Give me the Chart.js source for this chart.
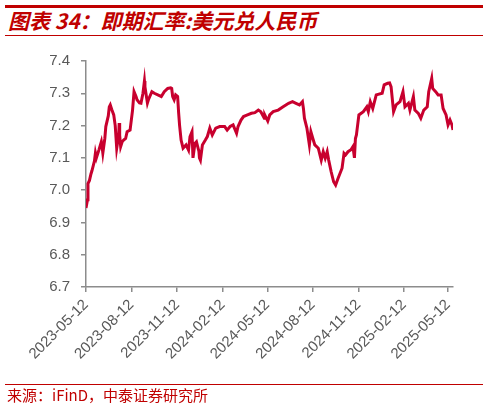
<!DOCTYPE html>
<html>
<head>
<meta charset="utf-8">
<title>即期汇率:美元兑人民币</title>
<script src="https://cdn.jsdelivr.net/npm/chart.js"></script>
<style>
  body { margin: 0; background: white; width: 488px; height: 408px; position: relative; overflow: hidden; }
  .rule { position: absolute; left: 5px; width: 478px; background: #c00000; }
  #title { position: absolute; left: 8px; top: 8px; font: italic bold 21px "Noto Sans CJK SC", "Liberation Sans", sans-serif; color: #c00000; line-height: 25px; white-space: nowrap; }
  #source { position: absolute; left: 7px; top: 386px; font: 15px "Noto Sans CJK SC", "Liberation Sans", sans-serif; color: #c00000; line-height: 18px; white-space: nowrap; }
  #wrap { position: absolute; left: 0; top: 40px; width: 488px; height: 345px; }
</style>
</head>
<body>
<div class="rule" style="top:5px;height:3px"></div>
<div id="title">图表 34：即期汇率:美元兑人民币</div>
<div class="rule" style="top:35px;height:1px"></div>
<div id="wrap"><canvas id="fx" width="488" height="345"></canvas></div>
<div class="rule" style="top:384px;height:1px"></div>
<div id="source">来源：iFinD，中泰证券研究所</div>
<script>
// USD/CNY spot
const dates = [
  '2023-05-12','2023-05-15','2023-05-16','2023-05-19','2023-05-22','2023-05-24','2023-05-29','2023-05-31',
  '2023-06-02','2023-06-07','2023-06-12','2023-06-13','2023-06-15','2023-06-19','2023-06-21','2023-06-26',
  '2023-06-28','2023-06-30','2023-07-03','2023-07-07','2023-07-10','2023-07-13','2023-07-17','2023-07-18',
  '2023-07-19','2023-07-21','2023-07-24','2023-07-27','2023-07-31','2023-08-03','2023-08-09','2023-08-14',
  '2023-08-17','2023-08-21','2023-08-23','2023-08-28','2023-08-31','2023-09-04','2023-09-07','2023-09-08',
  '2023-09-11','2023-09-13','2023-09-15','2023-09-22','2023-09-27','2023-10-04','2023-10-11','2023-10-17',
  '2023-10-24','2023-10-30','2023-11-01','2023-11-03','2023-11-06','2023-11-09','2023-11-13','2023-11-15',
  '2023-11-17','2023-11-20','2023-11-24','2023-11-30','2023-12-05','2023-12-08','2023-12-12','2023-12-14',
  '2023-12-18','2023-12-21','2023-12-26','2023-12-27','2023-12-29','2024-01-02','2024-01-08','2024-01-12',
  '2024-01-17','2024-01-22','2024-01-29','2024-02-06','2024-02-16','2024-02-21','2024-02-27','2024-03-04',
  '2024-03-11','2024-03-14','2024-03-20','2024-03-25','2024-04-02','2024-04-10','2024-04-17','2024-04-24',
  '2024-04-29','2024-05-06','2024-05-07','2024-05-13','2024-05-17','2024-05-24','2024-06-03','2024-06-13',
  '2024-06-24','2024-07-02','2024-07-09','2024-07-16','2024-07-22','2024-07-24','2024-07-26','2024-07-31',
  '2024-08-05','2024-08-08','2024-08-12','2024-08-16','2024-08-23','2024-08-29','2024-09-02','2024-09-06',
  '2024-09-10','2024-09-13','2024-09-18','2024-09-23','2024-09-27','2024-10-02','2024-10-10','2024-10-14',
  '2024-10-17','2024-10-22','2024-10-28','2024-11-01','2024-11-04','2024-11-06','2024-11-08','2024-11-13',
  '2024-11-22','2024-11-29','2024-12-02','2024-12-06','2024-12-11','2024-12-18','2024-12-30','2025-01-03',
  '2025-01-10','2025-01-14','2025-01-17','2025-01-22','2025-01-27','2025-02-04','2025-02-10','2025-02-14',
  '2025-02-21','2025-02-24','2025-03-03','2025-03-06','2025-03-13','2025-03-18','2025-03-24','2025-03-31',
  '2025-04-03','2025-04-09','2025-04-11','2025-04-17','2025-04-22','2025-04-28','2025-05-02','2025-05-08',
  '2025-05-12','2025-05-16','2025-05-20','2025-05-22'
];
const rates = [
  6.945, 6.97, 7.02, 7.03, 7.05, 7.06, 7.09, 7.115,
  7.10, 7.124, 7.15, 7.14, 7.115, 7.16, 7.197, 7.23,
  7.258, 7.264, 7.25, 7.233, 7.20, 7.13, 7.17, 7.208,
  7.17, 7.135, 7.15, 7.155, 7.16, 7.181, 7.186, 7.248,
  7.305, 7.29, 7.28, 7.27, 7.269, 7.30, 7.338, 7.32,
  7.29, 7.27, 7.28, 7.305, 7.30, 7.295, 7.29, 7.305,
  7.315, 7.317, 7.315, 7.29, 7.28, 7.295, 7.29, 7.24,
  7.20, 7.155, 7.13, 7.14, 7.124, 7.166, 7.181, 7.10,
  7.145, 7.15, 7.12, 7.10, 7.093, 7.14, 7.155, 7.166,
  7.192, 7.171, 7.192, 7.197, 7.197, 7.186, 7.197, 7.202,
  7.176, 7.197, 7.217, 7.228, 7.233, 7.238, 7.24, 7.248,
  7.243, 7.223, 7.233, 7.214, 7.233, 7.243, 7.248, 7.258,
  7.269, 7.274, 7.269, 7.264, 7.274, 7.253, 7.223, 7.192,
  7.14, 7.181, 7.16, 7.14, 7.13, 7.093, 7.119, 7.099,
  7.119, 7.093, 7.057, 7.026, 7.016, 7.037, 7.068, 7.114,
  7.109, 7.119, 7.125, 7.135, 7.10, 7.16, 7.171, 7.233,
  7.243, 7.258, 7.243, 7.274, 7.253, 7.295, 7.30, 7.326,
  7.331, 7.332, 7.32, 7.243, 7.264, 7.274, 7.305, 7.258,
  7.269, 7.248, 7.29, 7.248, 7.238, 7.223, 7.248, 7.258,
  7.305, 7.346, 7.315, 7.305, 7.295, 7.295, 7.253, 7.233,
  7.202, 7.217, 7.202, 7.186
];
const tickDates = ['2023-05-12','2023-08-12','2023-11-12','2024-02-12','2024-05-12',
                   '2024-08-12','2024-11-12','2025-02-12','2025-05-12'];
const yTicks = [6.7, 6.8, 6.9, 7.0, 7.1, 7.2, 7.3, 7.4];

const t0 = Date.parse(dates[0]);
const dayOf = d => Math.round((Date.parse(d) - t0) / 864e5);
const points = dates.map((d, i) => ({ x: dayOf(d), y: rates[i] }));

const axisGrey = '#8c8c8c';
const textGrey = '#595959';
const font = { family: '"Liberation Sans", Arial, sans-serif', size: 15 };

new Chart(document.getElementById('fx'), {
  type: 'line',
  data: {
    datasets: [{
      data: points,
      borderColor: '#c8002e',
      borderWidth: 3,
      pointRadius: 0,
      tension: 0
    }]
  },
  options: {
    responsive: false,
    animation: false,
    devicePixelRatio: 1,
    layout: { padding: { top: 21, right: 35, left: 0, bottom: 0 } },
    plugins: { legend: { display: false }, tooltip: { enabled: false } },
    scales: {
      x: {
        type: 'linear',
        min: 0,
        max: dayOf(dates[dates.length - 1]),
        afterBuildTicks: s => { s.ticks = tickDates.map(d => ({ value: dayOf(d) })); },
        afterFit: s => { s.height = 98; },
        border: { color: axisGrey, width: 1.5 },
        grid: { drawOnChartArea: false, color: axisGrey, tickLength: 5, lineWidth: 1.5 },
        ticks: {
          autoSkip: false, minRotation: 45, maxRotation: 45, padding: 4,
          color: textGrey, font: font,
          callback: (v, i) => tickDates[i]
        }
      },
      y: {
        min: 6.7,
        max: 7.4,
        afterBuildTicks: s => { s.ticks = yTicks.map(v => ({ value: v })); },
        afterFit: s => { s.width = 86; },
        border: { color: axisGrey, width: 1.5 },
        grid: { drawOnChartArea: false, color: axisGrey, tickLength: 5, lineWidth: 1.5 },
        ticks: {
          padding: 11, color: textGrey, font: font,
          callback: (v, i) => yTicks[i].toFixed(1)
        }
      }
    }
  }
});
</script>
</body>
</html>
